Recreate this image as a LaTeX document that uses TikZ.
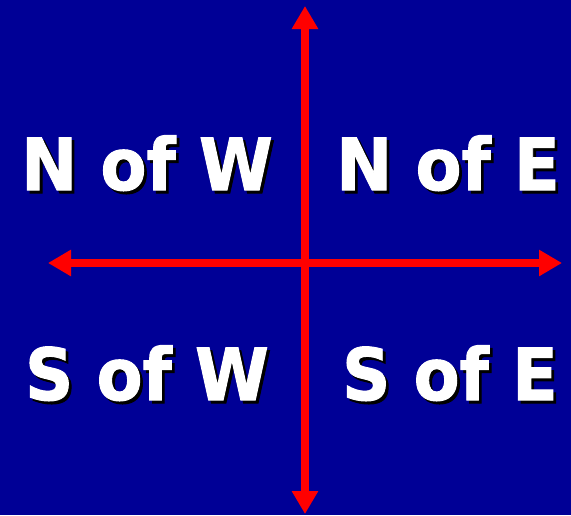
\documentclass[tikz,border=0pt]{standalone}
\usepackage{fontspec}
\setmainfont{DejaVu Sans}
\newfontfamily\heavyfont[FakeBold=1.4]{DejaVu Sans Bold}
\usetikzlibrary{arrows.meta}
\definecolor{bgblue}{HTML}{000096}
\definecolor{axisred}{HTML}{FF0000}
\newcommand\shadowed[1]{\makebox[0pt][l]{\kern3pt\raisebox{-3pt}{\textcolor{black}{#1}}}#1}
\begin{document}
\begin{tikzpicture}[x=1pt,y=-1pt,
  axis/.style={draw=axisred,line width=8pt,{Triangle[length=23pt,width=25pt]}-{Triangle[length=23pt,width=25pt]}},
  lbl/.style={font=\heavyfont\fontsize{72}{72}\selectfont,text=white,anchor=base,inner sep=0pt,xscale=0.93}]
\fill[bgblue] (0,0) rectangle (571,515);
\useasboundingbox (0,0) rectangle (571,515);
\coordinate (top) at (305,6);
\coordinate (bot) at (305,514);
\coordinate (lft) at (48,263);
\coordinate (rgt) at (562,263);
\draw[axis] (bot) -- (top);
\draw[axis] (lft) -- (rgt);
\node[lbl] (nw) at (147,190) {\shadowed{N of W}};
\node[lbl] (ne) at (448,190) {\shadowed{N of E}};
\node[lbl] (sw) at (147,400) {\shadowed{S of W}};
\node[lbl] (se) at (450,400) {\shadowed{S of E}};
\end{tikzpicture}
\end{document}
